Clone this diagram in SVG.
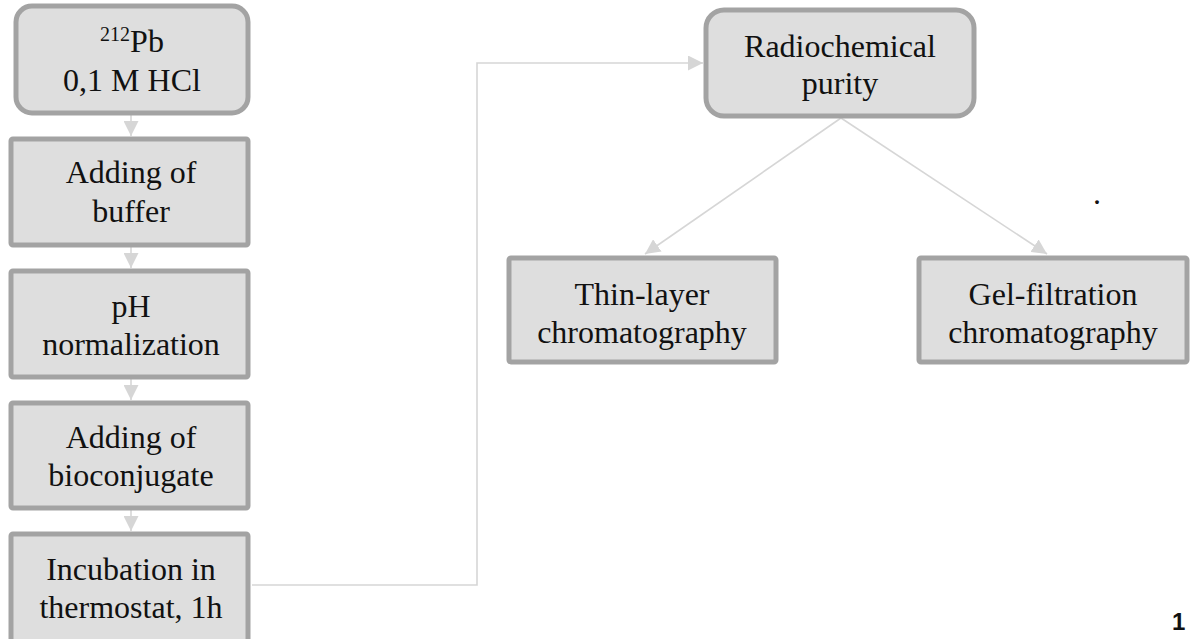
<svg xmlns="http://www.w3.org/2000/svg" width="1190" height="639" viewBox="0 0 1190 639">
<style>
.box{fill:#dedede;stroke:#a3a3a3;stroke-width:5}
.t{font-family:"Liberation Serif","Times New Roman",serif;font-size:32px;fill:#111;text-anchor:middle}
.c{fill:none;stroke:#d6d6d6;stroke-width:1.6}
</style>
<defs>
<marker id="ah2" viewBox="0 0 10 10" refX="10" refY="5" markerWidth="15" markerHeight="15" markerUnits="userSpaceOnUse" orient="auto">
<path d="M0,0 L10,5 L0,10 Z" fill="#d6d6d6"/>
</marker>
</defs>
<rect width="1190" height="639" fill="#fff"/>
<g id="connectors">
<line class="c" x1="131" y1="115" x2="131" y2="136" marker-end="url(#ah2)"/>
<line class="c" x1="131" y1="247" x2="131" y2="268" marker-end="url(#ah2)"/>
<line class="c" x1="131" y1="379" x2="131" y2="400" marker-end="url(#ah2)"/>
<line class="c" x1="131" y1="510" x2="131" y2="531" marker-end="url(#ah2)"/>
<polyline class="c" points="252,585 477,585 477,63 703,63" marker-end="url(#ah2)"/>
<line class="c" x1="841" y1="118" x2="645" y2="254" marker-end="url(#ah2)"/>
<line class="c" x1="841" y1="118" x2="1047" y2="254" marker-end="url(#ah2)"/>
</g>
<g id="n1">
<rect class="box" x="16" y="6" width="232" height="107" rx="16"/>
<text class="t" x="132" y="52"><tspan font-size="20" dy="-11">212</tspan><tspan dy="11">Pb</tspan></text>
<text class="t" x="132" y="91">0,1 M HCl</text>
</g>
<g id="n2">
<rect class="box" x="11" y="139" width="237" height="106" rx="2"/>
<text class="t" x="131" y="183">Adding of</text>
<text class="t" x="131" y="222">buffer</text>
</g>
<g id="n3">
<rect class="box" x="11" y="271" width="237" height="106" rx="2"/>
<text class="t" x="131" y="317">pH</text>
<text class="t" x="131" y="355">normalization</text>
</g>
<g id="n4">
<rect class="box" x="11" y="403" width="237" height="105" rx="2"/>
<text class="t" x="131" y="448">Adding of</text>
<text class="t" x="131" y="486">bioconjugate</text>
</g>
<g id="n5">
<rect class="box" x="11" y="534" width="237" height="108" rx="2"/>
<text class="t" x="131" y="580">Incubation in</text>
<text class="t" x="131" y="618">thermostat, 1h</text>
</g>
<g id="n6">
<rect class="box" x="706" y="10" width="268" height="106" rx="18"/>
<text class="t" x="840" y="57">Radiochemical</text>
<text class="t" x="840" y="94">purity</text>
</g>
<g id="n7">
<rect class="box" x="509" y="258" width="267" height="104" rx="2"/>
<text class="t" x="642" y="305">Thin-layer</text>
<text class="t" x="642" y="343">chromatography</text>
</g>
<g id="n8">
<rect class="box" x="919" y="258" width="268" height="104" rx="2"/>
<text class="t" x="1053" y="305">Gel-filtration</text>
<text class="t" x="1053" y="343">chromatography</text>
</g>
<text class="t" x="1097" y="204" font-size="24">.</text>
<text x="1172" y="630" font-family="Liberation Sans,Arial,sans-serif" font-size="24" font-weight="bold" fill="#111">1</text>
</svg>
